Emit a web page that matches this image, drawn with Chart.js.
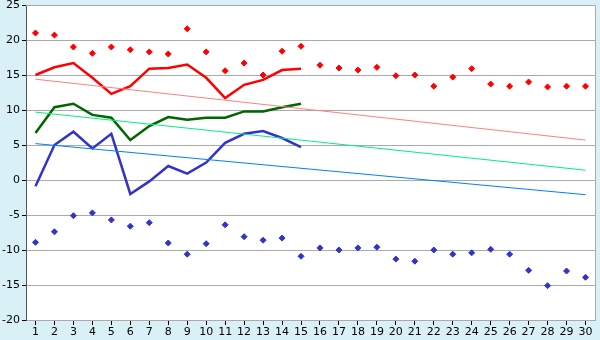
<!DOCTYPE html>
<html lang="en">
<head>
  <meta charset="UTF-8">
  <title>Temperatures</title>
  <script src="https://cdn.jsdelivr.net/npm/chart.js@4/dist/chart.umd.min.js"></script>
  <style>
    body { margin: 0; background: #daf0f7; }
    #wrap { width: 600px; height: 340px; }
  </style>
</head>
<body>
  <div id="wrap"><canvas id="c" width="600" height="340"></canvas></div>
  <script>
    const days = [];
    for (let d = 1; d <= 30; d++) days.push(d);

    // record highs / lows per day (markers)
    const recordHigh = [21.0, 20.7, 19.0, 18.1, 19.0, 18.6, 18.3, 18.0, 21.6, 18.3,
                        15.6, 16.7, 15.0, 18.4, 19.1, 16.4, 16.0, 15.7, 16.1, 14.9,
                        15.0, 13.4, 14.7, 15.9, 13.7, 13.4, 14.0, 13.3, 13.4, 13.4];
    const recordLow = [-8.9, -7.4, -5.1, -4.7, -5.7, -6.6, -6.1, -9.0, -10.6, -9.1,
                       -6.4, -8.1, -8.6, -8.3, -10.9, -9.7, -10.0, -9.7, -9.6, -11.3,
                       -11.6, -10.0, -10.6, -10.4, -9.9, -10.6, -12.9, -15.1, -13.0, -13.9];

    // this month so far (days 1-15)
    const maxTemp = [15.0, 16.1, 16.7, 14.6, 12.3, 13.4, 15.9, 16.0, 16.5, 14.6, 11.7, 13.6, 14.3, 15.7, 15.9];
    const meanTemp = [6.7, 10.4, 10.9, 9.3, 8.9, 5.7, 7.7, 9.0, 8.6, 8.9, 8.9, 9.8, 9.8, 10.4, 10.9];
    const minTemp = [-0.9, 5.0, 6.9, 4.5, 6.6, -2.0, -0.2, 2.0, 0.9, 2.5, 5.3, 6.6, 7.0, 6.0, 4.7];

    // normals, first and last day of the month
    const normalDays = [1, 30];
    const normalMax = [14.4, 5.7];
    const normalMean = [9.7, 1.4];
    const normalMin = [5.2, -2.1];

    const yTicks = [-20, -15, -10, -5, 0, 5, 10, 15, 20, 25];

    const pts = (xs, ys) => ys.map((v, i) => ({ x: xs[i], y: v }));

    const frame = {
      id: 'frame',
      beforeDraw(chart) {
        const { ctx, chartArea: a } = chart;
        ctx.save();
        ctx.fillStyle = '#daf0f7';
        ctx.fillRect(0, 0, chart.width, chart.height);
        ctx.fillStyle = '#ffffff';
        ctx.fillRect(a.left, a.top, a.right - a.left, a.bottom - a.top);
        ctx.restore();
      },
      afterDraw(chart) {
        const { ctx, chartArea: a } = chart;
        ctx.save();
        ctx.strokeStyle = '#aaaaaa';
        ctx.lineWidth = 1;
        ctx.beginPath();
        ctx.moveTo(a.left, a.top + 0.5);
        ctx.lineTo(a.right + 0.5, a.top + 0.5);
        ctx.lineTo(a.right + 0.5, a.bottom);
        ctx.stroke();
        ctx.restore();
      }
    };

    Chart.defaults.font.family = 'DejaVu Sans';
    Chart.defaults.font.size = 11;
    Chart.defaults.color = '#000';

    new Chart(document.getElementById('c'), {
      type: 'line',
      data: {
        datasets: [
          { data: pts(days, recordHigh), showLine: false, pointStyle: 'rectRot', pointRadius: 3,
            backgroundColor: '#ff0000', borderColor: '#ff0000', borderWidth: 1 },
          { data: pts(normalDays, normalMax), borderColor: '#ff8080', borderWidth: 1, pointRadius: 0 },
          { data: pts(normalDays, normalMean), borderColor: '#00f080', borderWidth: 1, pointRadius: 0 },
          { data: pts(normalDays, normalMin), borderColor: '#0080ff', borderWidth: 1, pointRadius: 0 },
          { data: pts(days, maxTemp), borderColor: '#ff0000', borderWidth: 2.5, pointRadius: 0 },
          { data: pts(days, meanTemp), borderColor: '#006600', borderWidth: 2.5, pointRadius: 0 },
          { data: pts(days, minTemp), borderColor: '#3333cc', borderWidth: 2.5, pointRadius: 0 },
          { data: pts(days, recordLow), showLine: false, pointStyle: 'rectRot', pointRadius: 3,
            backgroundColor: '#3333cc', borderColor: '#3333cc', borderWidth: 1 }
        ]
      },
      options: {
        responsive: false,
        animation: false,
        layout: { padding: { top: 5, right: 5, left: 0, bottom: 0 } },
        plugins: { legend: { display: false }, tooltip: { enabled: false } },
        scales: {
          x: {
            type: 'linear',
            min: 0.5,
            max: 30.5,
            afterBuildTicks: s => { s.ticks = days.map(d => ({ value: d })); },
            afterFit: s => { s.height = 20; s.paddingLeft = 0; s.paddingRight = 0; },
            grid: { drawOnChartArea: false, drawTicks: true, tickLength: 5, color: '#000' },
            border: { color: '#aaaaaa' },
            ticks: { padding: 1, maxRotation: 0, autoSkip: false }
          },
          y: {
            min: -20,
            max: 25,
            afterBuildTicks: s => { s.ticks = yTicks.map(v => ({ value: v })); },
            afterFit: s => { s.width = 26; s.paddingTop = 0; s.paddingBottom = 0; },
            grid: { color: '#aaaaaa', tickColor: '#000', tickLength: 4 },
            border: { color: '#555555' },
            ticks: { padding: 2 }
          }
        }
      },
      plugins: [frame]
    });
  </script>
</body>
</html>
